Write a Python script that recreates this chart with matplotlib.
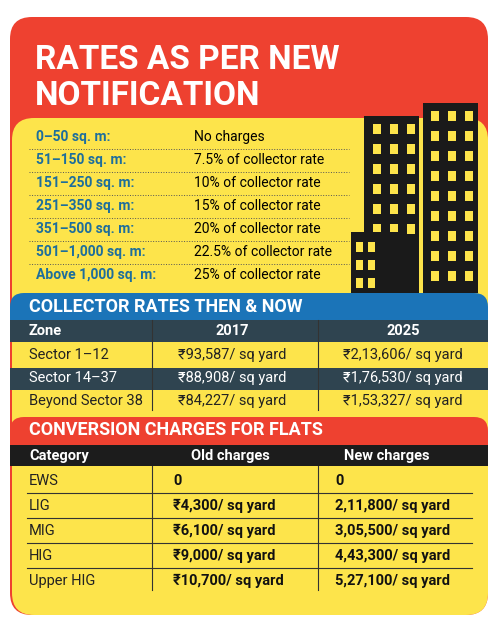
import matplotlib.pyplot as plt
from matplotlib.patches import FancyBboxPatch, Rectangle

plt.rcParams['font.family'] = ['Roboto', 'DejaVu Sans']

RED = '#ee4130'
YEL = '#fde44b'
BLUE = '#1b74b8'
SLATE = '#2f4450'
TEAL = '#1d6e9c'

title_lines = ['RATES AS PER NEW', 'NOTIFICATION']
slabs = ['0–50 sq. m:', '51–150 sq. m:', '151–250 sq. m:', '251–350 sq. m:',
         '351–500 sq. m:', '501–1,000 sq. m:', 'Above 1,000 sq. m:']
slab_rates = ['No charges', '7.5% of collector rate', '10% of collector rate',
              '15% of collector rate', '20% of collector rate',
              '22.5% of collector rate', '25% of collector rate']

zone_header = ['Zone', '2017', '2025']
zones = ['Sector 1–12', 'Sector 14–37', 'Beyond Sector 38']
rate_2017 = ['₹93,587/ sq yard', '₹88,908/ sq yard', '₹84,227/ sq yard']
rate_2025 = ['₹2,13,606/ sq yard', '₹1,76,530/ sq yard', '₹1,53,327/ sq yard']

flat_header = ['Category', 'Old charges', 'New charges']
categories = ['EWS', 'LIG', 'MIG', 'HIG', 'Upper HIG']
old_charges = ['0', '₹4,300/ sq yard', '₹6,100/ sq yard', '₹9,000/ sq yard', '₹10,700/ sq yard']
new_charges = ['0', '2,11,800/ sq yard', '3,05,500/ sq yard', '4,43,300/ sq yard', '5,27,100/ sq yard']

fig = plt.figure(figsize=(4.99, 6.23), dpi=100)
ax = fig.add_axes([0, 0, 1, 1])
ax.set_xlim(0, 499)
ax.set_ylim(623, 0)
ax.axis('off')

# outer panels
ax.add_patch(FancyBboxPatch((10, 17), 478, 598, boxstyle='round,pad=0,rounding_size=22',
                            fc=RED, ec='none'))
ax.add_patch(FancyBboxPatch((12, 118), 476, 497, boxstyle='round,pad=0,rounding_size=22',
                            fc=YEL, ec='none'))

for i, t in enumerate(title_lines):
    ax.text(35, 60 + i * 36, t, color='white', fontsize=24, fontweight='bold', va='center')

# slab table
for i, (s, r) in enumerate(zip(slabs, slab_rates)):
    y = 137 + i * 23
    ax.text(36, y, s, color=TEAL, fontsize=10, fontweight='bold', va='center')
    ax.text(194, y, r, color='black', fontsize=10, va='center')
    if i < len(slabs) - 1:
        ax.plot([29, 349], [y + 12, y + 12], color='#555', lw=0.7, ls=':')

# buildings
def building(x0, y0, w, h, cols, rows, wx, wy, ww, wh, dx, dy):
    ax.add_patch(Rectangle((x0, y0), w, h, fc='#1a1a1a', ec='none'))
    for c in range(cols):
        for r in range(rows):
            ax.add_patch(Rectangle((x0 + wx + c * dx, y0 + wy + r * dy), ww, wh,
                                   fc=YEL, ec='none'))

building(423, 103, 55, 190, 3, 9, 8, 8, 8, 10, 17, 20)
building(364, 116, 55, 177, 3, 6, 9, 8, 8, 10, 17, 20)
building(351, 232, 49, 61, 2, 3, 5, 10, 7, 10, 12, 18)

# collector rates
ax.add_patch(FancyBboxPatch((10, 293), 478, 40, boxstyle='round,pad=0,rounding_size=14',
                            fc=BLUE, ec='none'))
ax.text(29, 307, 'COLLECTOR RATES THEN & NOW', color='white', fontsize=13,
        fontweight='bold', va='center')
ax.add_patch(Rectangle((10, 320), 478, 22, fc=SLATE, ec='none'))
ax.add_patch(Rectangle((12, 342), 476, 76, fc=YEL, ec='none'))
ax.add_patch(Rectangle((10, 368), 478, 22, fc=SLATE, ec='none'))
ax.text(29, 331, zone_header[0], color='white', fontsize=10.5, fontweight='bold', va='center')
ax.text(232, 331, zone_header[1], color='white', fontsize=10.5, fontweight='bold', va='center', ha='center')
ax.text(403, 331, zone_header[2], color='white', fontsize=10.5, fontweight='bold', va='center', ha='center')
for i in range(len(zones)):
    y = 355 + i * 23
    col = 'white' if i == 1 else '#222'
    ax.text(29, y, zones[i], color=col, fontsize=10.5, va='center')
    ax.text(232, y, rate_2017[i], color=col, fontsize=10.5, va='center', ha='center')
    ax.text(403, y, rate_2025[i], color=col, fontsize=10.5, va='center', ha='center')
for x in (152, 318):
    ax.plot([x, x], [320, 410], color='#333', lw=0.8)

# conversion charges
ax.add_patch(FancyBboxPatch((10, 417), 478, 45, boxstyle='round,pad=0,rounding_size=14',
                            fc=RED, ec='none'))
ax.text(29, 430, 'CONVERSION CHARGES FOR FLATS', color='white', fontsize=13,
        fontweight='bold', va='center')
ax.add_patch(Rectangle((10, 445), 478, 21, fc='#1c1c1c', ec='none'))
ax.add_patch(Rectangle((12, 466), 476, 120, fc=YEL, ec='none'))
ax.text(29, 456, flat_header[0], color='white', fontsize=10.5, fontweight='bold', va='center')
ax.text(230, 456, flat_header[1], color='white', fontsize=10.5, fontweight='bold', va='center', ha='center')
ax.text(387, 456, flat_header[2], color='white', fontsize=10.5, fontweight='bold', va='center', ha='center')
for i in range(len(categories)):
    y = 481 + i * 25
    ax.text(29, y, categories[i], color='#222', fontsize=10.5, va='center')
    ax.text(173, y, old_charges[i], color='#111', fontsize=10.5, fontweight='bold', va='center')
    ax.text(335, y, new_charges[i], color='#111', fontsize=10.5, fontweight='bold', va='center')
    if i < len(categories) - 1:
        ax.plot([27, 472], [y + 12, y + 12], color='#333', lw=0.8)
for x in (152, 318):
    ax.plot([x, x], [466, 590], color='#333', lw=0.8)

fig.savefig('out.png', dpi=100)
